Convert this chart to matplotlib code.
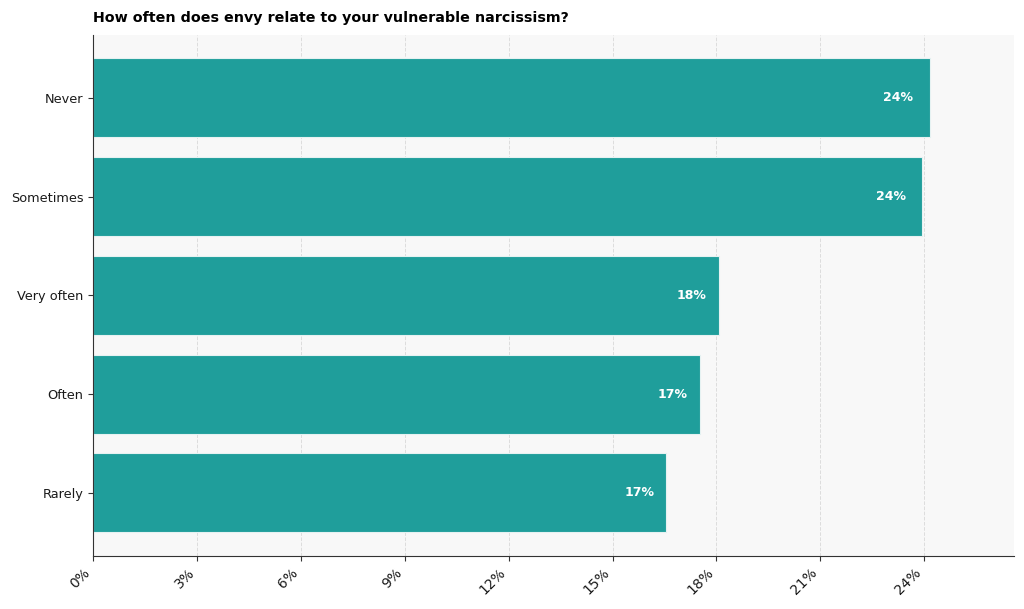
import matplotlib
matplotlib.use("Agg")
import matplotlib.pyplot as plt
from matplotlib.ticker import MultipleLocator, FuncFormatter

categories = ["Never", "Sometimes", "Very often", "Often", "Rarely"]
shares = [24.17, 23.94, 18.06, 17.53, 16.54]
share_labels = ["24%", "24%", "18%", "17%", "17%"]

fig, ax = plt.subplots(figsize=(10.24, 6.09), dpi=100)
fig.subplots_adjust(left=0.091, right=0.990, top=0.943, bottom=0.087)

ax.set_facecolor("#f8f8f8")
ax.barh(categories, shares, height=0.8, color="#1f9e9b",
        edgecolor="#e6f2f2", linewidth=0.8, zorder=2)
ax.invert_yaxis()

# value labels just inside the bar ends
for i, (v, lab) in enumerate(zip(shares, share_labels)):
    ax.text(v * 0.98, i, lab, ha="right", va="center", color="white",
            fontsize=9, fontweight="bold", zorder=3)

ax.set_xlim(0, max(shares) * 1.1)
ax.xaxis.set_major_locator(MultipleLocator(3))
ax.xaxis.set_major_formatter(FuncFormatter(lambda x, p: f"{x:.0f}%"))
plt.setp(ax.get_xticklabels(), rotation=45, ha="right")

ax.grid(axis="x", linestyle="--", color="#dddddd", linewidth=0.7, zorder=0)
ax.set_axisbelow(True)

for s in ["top", "right"]:
    ax.spines[s].set_visible(False)
for s in ["left", "bottom"]:
    ax.spines[s].set_color("#333333")
ax.tick_params(colors="#333333", labelcolor="#1a1a1a")
ax.tick_params(axis="x", labelsize=10)
ax.tick_params(axis="y", labelsize=9.25)

ax.set_title("How often does envy relate to your vulnerable narcissism?",
             loc="left", fontsize=10.25, fontweight="bold", pad=9.5)

fig.savefig("out.png", dpi=100, facecolor="white")
